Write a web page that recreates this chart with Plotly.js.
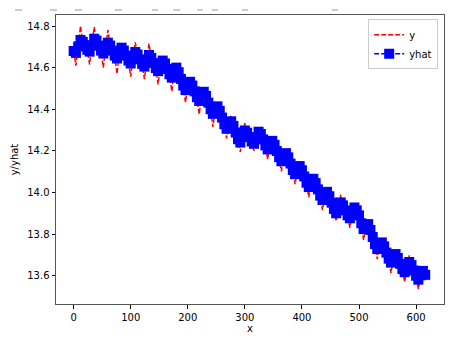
<!DOCTYPE html>
<html>
<head>
<meta charset="utf-8">
<script src="https://cdn.plot.ly/plotly-3.0.1.min.js"></script>
<style>html,body{margin:0;padding:0;background:#fff;}#chart{width:454px;height:340px;}</style>
</head>
<body>
<div id="chart"></div>
<script>
const xs = [0,4,8,12,16,20,24,28,32,36,40,44,48,52,56,60,64,68,72,76,80,84,88,92,96,100,104,108,112,116,120,124,128,132,136,140,144,148,152,156,160,164,168,172,176,180,184,188,192,196,200,204,208,212,216,220,224,228,232,236,240,244,248,252,256,260,264,268,272,276,280,284,288,292,296,300,304,308,312,316,320,324,328,332,336,340,344,348,352,356,360,364,368,372,376,380,384,388,392,396,400,404,408,412,416,420,424,428,432,436,440,444,448,452,456,460,464,468,472,476,480,484,488,492,496,500,504,508,512,516,520,524,528,532,536,540,544,548,552,556,560,564,568,572,576,580,584,588,592,596,600,604,608,612,616];

const yhat = [14.680,14.671,14.702,14.733,14.724,14.705,14.686,14.677,14.708,14.739,14.730,14.706,14.682,14.668,14.694,14.720,14.706,14.682,14.658,14.644,14.670,14.696,14.682,14.658,14.634,14.620,14.648,14.675,14.663,14.640,14.618,14.605,14.633,14.661,14.647,14.622,14.598,14.583,14.609,14.634,14.620,14.594,14.568,14.552,14.576,14.600,14.578,14.546,14.514,14.492,14.510,14.532,14.514,14.486,14.458,14.440,14.462,14.484,14.464,14.432,14.400,14.378,14.396,14.414,14.392,14.360,14.328,14.306,14.324,14.342,14.320,14.288,14.256,14.240,14.269,14.298,14.287,14.266,14.245,14.234,14.263,14.292,14.281,14.255,14.226,14.207,14.227,14.248,14.229,14.199,14.170,14.150,14.169,14.189,14.169,14.139,14.108,14.088,14.108,14.127,14.107,14.077,14.047,14.026,14.046,14.066,14.045,14.015,13.985,13.964,13.983,14.003,13.982,13.951,13.921,13.900,13.926,13.952,13.938,13.914,13.890,13.876,13.902,13.928,13.914,13.890,13.852,13.824,13.836,13.848,13.820,13.786,13.752,13.728,13.744,13.760,13.741,13.711,13.682,13.663,13.683,13.704,13.685,13.657,13.632,13.617,13.641,13.666,13.651,13.625,13.600,13.581,13.602,13.623,13.604];

const y = [14.684,14.610,14.700,14.800,14.722,14.708,14.684,14.615,14.710,14.795,14.728,14.709,14.680,14.600,14.697,14.780,14.704,14.685,14.655,14.570,14.672,14.698,14.680,14.660,14.632,14.557,14.650,14.722,14.661,14.642,14.616,14.545,14.635,14.715,14.645,14.624,14.596,14.520,14.611,14.636,14.618,14.596,14.566,14.485,14.578,14.602,14.576,14.548,14.512,14.433,14.512,14.534,14.512,14.488,14.456,14.375,14.464,14.486,14.462,14.434,14.398,14.315,14.398,14.416,14.390,14.362,14.326,14.260,14.326,14.372,14.318,14.290,14.254,14.195,14.271,14.333,14.285,14.268,14.243,14.200,14.265,14.294,14.279,14.257,14.224,14.160,14.229,14.250,14.227,14.201,14.168,14.102,14.171,14.191,14.167,14.141,14.106,14.040,14.110,14.129,14.105,14.079,14.045,13.978,14.048,14.068,14.043,14.017,13.983,13.915,13.985,14.005,13.980,13.953,13.919,13.862,13.928,13.990,13.936,13.916,13.888,13.830,13.904,13.930,13.912,13.892,13.850,13.772,13.838,13.850,13.818,13.788,13.750,13.680,13.746,13.762,13.739,13.713,13.680,13.612,13.685,13.706,13.683,13.659,13.630,13.570,13.643,13.698,13.649,13.627,13.598,13.535,13.604,13.625,13.600];

const xTicks = [0,100,200,300,400,500,600];
const yTicks = [13.6,13.8,14.0,14.2,14.4,14.6,14.8];

// faint marks along the very top edge of the picture (pixel x positions of the dashes)
const topDashPx = [[15,22],[50,57],[75,82],[115,122],[152,158],[173,180],[197,203],[212,218],[242,248],[332,338]];

const L = 56, R = 10, T = 15, B = 36, W = 454, H = 340;
const pw = W - L - R, ph = H - T - B;
const shapes = topDashPx.map(d => ({
  type: 'line', xref: 'paper', yref: 'paper',
  x0: (d[0] - L) / pw, x1: (d[1] - L) / pw,
  y0: (H - B - 10) / ph, y1: (H - B - 10) / ph,
  line: {color: '#999', width: 1}
}));

const font = {family: 'DejaVu Sans, sans-serif', size: 10, color: '#000'};

const traces = [
  {x: xs, y: y, name: 'y', type: 'scatter', mode: 'lines',
   line: {color: 'red', width: 1.5, dash: '5px,2px'}},
  {x: xs, y: yhat, name: 'yhat', type: 'scatter', mode: 'lines+markers',
   line: {color: 'blue', width: 1.5, dash: '5px,2px'},
   marker: {symbol: 'square', size: 10, color: 'blue', line: {width: 0}}}
];

const layout = {
  width: W, height: H,
  margin: {l: L, r: R, t: T, b: B, pad: 0},
  paper_bgcolor: '#fff', plot_bgcolor: '#fff',
  font: font,
  showlegend: true,
  legend: {x: 0.985, y: 0.985, xanchor: 'right', yanchor: 'top',
           bgcolor: 'rgba(255,255,255,0.8)', bordercolor: '#ccc', borderwidth: 1,
           font: font, tracegroupgap: 0, itemwidth: 30},
  xaxis: {range: [-30.9, 648.9], tickvals: xTicks, ticktext: xTicks.map(String),
          ticks: 'outside', ticklen: 3.5, tickcolor: '#000', showgrid: false, zeroline: false,
          showline: true, linecolor: '#555', linewidth: 1, mirror: true,
          title: {text: 'x', font: font, standoff: 2}},
  yaxis: {range: [13.464, 14.853], tickvals: yTicks, ticktext: yTicks.map(v => v.toFixed(1)),
          ticks: 'outside', ticklen: 3.5, tickcolor: '#000', showgrid: false, zeroline: false,
          showline: true, linecolor: '#555', linewidth: 1, mirror: true,
          title: {text: 'y/yhat', font: font, standoff: 6}},
  shapes: shapes
};

Plotly.newPlot('chart', traces, layout, {displayModeBar: false, staticPlot: true});
</script>
</body>
</html>
